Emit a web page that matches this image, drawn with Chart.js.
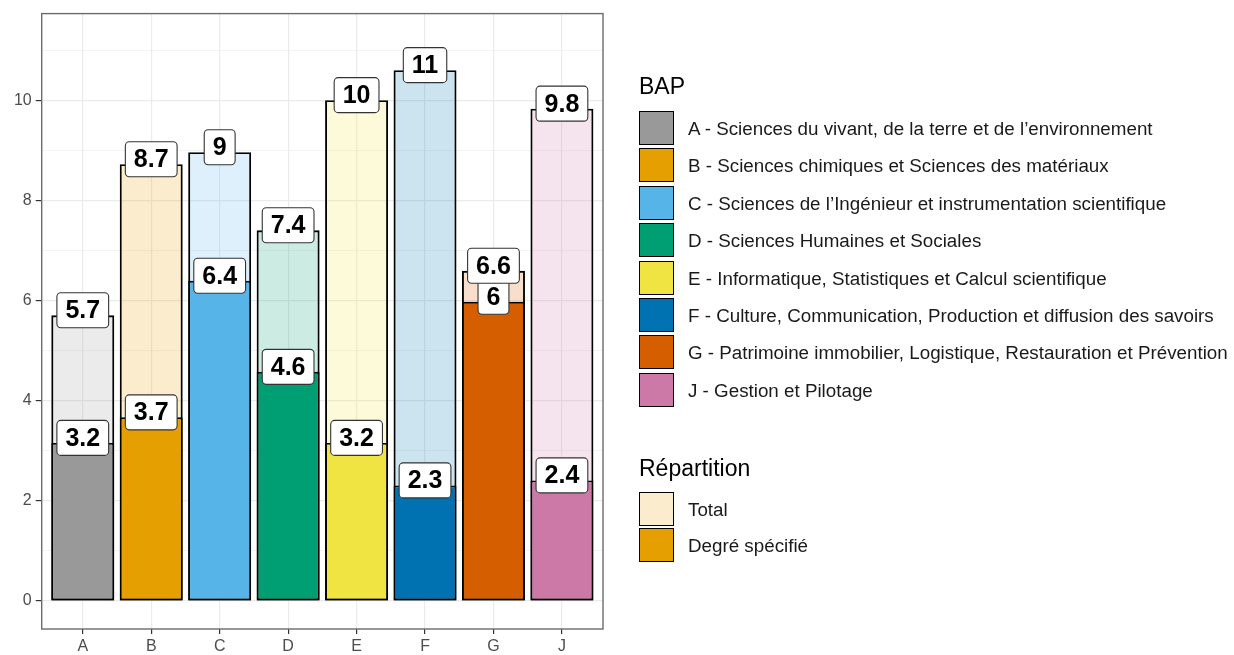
<!DOCTYPE html>
<html lang="fr">
<head>
    <meta charset="UTF-8">
    <title>Répartition par BAP</title>
    <script src="https://cdn.jsdelivr.net/npm/chart.js"></script>
    <style>
        body { margin: 0; background: #fff; font-family: "Liberation Sans", Arial, sans-serif; }
        #wrap { position: relative; width: 1234px; height: 655px; }
        canvas { position: absolute; left: 0; top: 0; }
        .legend-title { position: absolute; left: 639px; font-size: 23px; color: #000; line-height: 1; }
        .key { position: absolute; left: 639px; width: 33px; height: 32px; border: 1.8px solid #000; }
        .key-label { position: absolute; left: 688px; font-size: 18.8px; color: #1a1a1a; line-height: 1; white-space: nowrap; }
    </style>
</head>
<body>
<div id="wrap">
    <canvas id="bapChart" width="1234" height="655"></canvas>
    <div id="legend"></div>
</div>

<script>
    // categories and values
    const categories = ['A', 'B', 'C', 'D', 'E', 'F', 'G', 'J'];
    const bapNames = [
        'A - Sciences du vivant, de la terre et de l\u2019environnement',
        'B - Sciences chimiques et Sciences des matériaux',
        'C - Sciences de l\u2019Ingénieur et instrumentation scientifique',
        'D - Sciences Humaines et Sociales',
        'E - Informatique, Statistiques et Calcul scientifique',
        'F - Culture, Communication, Production et diffusion des savoirs',
        'G - Patrimoine immobilier, Logistique, Restauration et Prévention',
        'J - Gestion et Pilotage'
    ];
    const totalValues = [5.71, 8.73, 8.97, 7.41, 10.01, 10.61, 6.60, 9.84];
    const specifiedValues = [3.16, 3.67, 6.40, 4.58, 3.16, 2.31, 5.98, 2.41];
    const yTicks = [0, 1, 2, 3, 4, 5, 6, 7, 8, 9, 10, 11];
    const bapColors = ['#999999', '#E69F00', '#56B4E9', '#009E73', '#F0E442', '#0072B2', '#D55E00', '#CC79A7'];

    function withAlpha(hex, a) {
        const r = parseInt(hex.slice(1, 3), 16), g = parseInt(hex.slice(3, 5), 16), b = parseInt(hex.slice(5, 7), 16);
        return `rgba(${r}, ${g}, ${b}, ${a})`;
    }

    // labels like R's signif(x, 2)
    function fmt(v) {
        return String(Number(v.toPrecision(2)));
    }

    const axisFont = { family: '"Liberation Sans", Arial, sans-serif', size: 16 };

    // panel border drawn on top, like ggplot
    const panelBorder = {
        id: 'panelBorder',
        afterDatasetsDraw(chart) {
            const a = chart.chartArea, ctx = chart.ctx;
            ctx.save();
            ctx.strokeStyle = '#6b6b6b';
            ctx.lineWidth = 1.4;
            ctx.strokeRect(a.left, a.top, a.right - a.left, a.bottom - a.top);
            ctx.restore();
        }
    };

    // white rounded value labels at the top of each bar
    const valueLabels = {
        id: 'valueLabels',
        afterDraw(chart) {
            const ctx = chart.ctx;
            ctx.save();
            ctx.font = 'bold 25px "Liberation Sans", Arial, sans-serif';
            ctx.textAlign = 'center';
            ctx.textBaseline = 'middle';
            [0, 1].forEach(di => {
                const meta = chart.getDatasetMeta(di);
                const vals = chart.data.datasets[di].data;
                meta.data.forEach((bar, i) => {
                    const txt = fmt(vals[i].y);
                    const w = ctx.measureText(txt).width + 17;
                    const h = 35;
                    const cx = bar.x, cy = bar.y - 5;
                    const x = cx - w / 2, y = cy - h / 2, r = 4;
                    ctx.beginPath();
                    ctx.moveTo(x + r, y);
                    ctx.lineTo(x + w - r, y);
                    ctx.arcTo(x + w, y, x + w, y + r, r);
                    ctx.lineTo(x + w, y + h - r);
                    ctx.arcTo(x + w, y + h, x + w - r, y + h, r);
                    ctx.lineTo(x + r, y + h);
                    ctx.arcTo(x, y + h, x, y + h - r, r);
                    ctx.lineTo(x, y + r);
                    ctx.arcTo(x, y, x + r, y, r);
                    ctx.closePath();
                    ctx.fillStyle = '#ffffff';
                    ctx.fill();
                    ctx.strokeStyle = '#333333';
                    ctx.lineWidth = 1.1;
                    ctx.stroke();
                    ctx.fillStyle = '#000000';
                    ctx.fillText(txt, cx, cy + 1);
                });
            });
            ctx.restore();
        }
    };

    const ctx = document.getElementById('bapChart').getContext('2d');
    const bapChart = new Chart(ctx, {
        type: 'bar',
        data: {
            datasets: [
                {
                    label: 'Degré spécifié',
                    data: specifiedValues.map((v, i) => ({ x: i, y: v })),
                    backgroundColor: bapColors,
                    borderColor: '#000000',
                    borderWidth: 1.9,
                    borderSkipped: false,
                    grouped: false,
                    categoryPercentage: 0.92,
                    barPercentage: 1.0
                },
                {
                    label: 'Total',
                    data: totalValues.map((v, i) => ({ x: i, y: v })),
                    backgroundColor: bapColors.map(c => withAlpha(c, 0.2)),
                    borderColor: '#000000',
                    borderWidth: 1.9,
                    borderSkipped: false,
                    grouped: false,
                    categoryPercentage: 0.92,
                    barPercentage: 1.0
                }
            ]
        },
        options: {
            responsive: false,
            animation: false,
            devicePixelRatio: 1,
            layout: { padding: { top: 13, right: 631, left: 0, bottom: 0 } },
            plugins: { legend: { display: false }, tooltip: { enabled: false } },
            scales: {
                x: {
                    type: 'linear',
                    min: -0.6,
                    max: 7.6,
                    offset: false,
                    afterBuildTicks: axis => { axis.ticks = categories.map((c, i) => ({ value: i })); },
                    afterFit: scale => { scale.height = 26; },
                    ticks: {
                        callback: v => categories[v],
                        color: '#4d4d4d',
                        font: axisFont,
                        padding: 3,
                        maxRotation: 0,
                        autoSkip: false
                    },
                    grid: { offset: false, color: '#ebebeb', lineWidth: 1.2, tickLength: 5, tickColor: '#333333', tickWidth: 1.2 },
                    border: { display: false }
                },
                y: {
                    min: -0.56,
                    max: 11.74,
                    afterBuildTicks: axis => { axis.ticks = yTicks.map(v => ({ value: v })); },
                    afterFit: scale => { scale.width = 41.7; },
                    ticks: {
                        callback: v => (v % 2 === 0 ? String(v) : ''),
                        color: '#4d4d4d',
                        font: axisFont,
                        padding: 4
                    },
                    grid: {
                        color: '#ebebeb',
                        lineWidth: c => (c.tick && c.tick.value % 2 === 0 ? 1.2 : 0.6),
                        tickLength: 6,
                        tickColor: c => (c.tick && c.tick.value % 2 === 0 ? '#333333' : 'rgba(0,0,0,0)'),
                        tickWidth: 1.2
                    },
                    border: { display: false }
                }
            }
        },
        plugins: [panelBorder, valueLabels]
    });

    // legend on the right, two groups
    const legend = document.getElementById('legend');
    function addTitle(text, top) {
        const d = document.createElement('div');
        d.className = 'legend-title';
        d.style.top = top + 'px';
        d.textContent = text;
        legend.appendChild(d);
    }
    function addKey(color, text, top, h) {
        const k = document.createElement('div');
        k.className = 'key';
        k.style.top = top + 'px';
        k.style.background = color;
        legend.appendChild(k);
        const t = document.createElement('div');
        t.className = 'key-label';
        t.style.top = (top + h / 2 - 8.5) + 'px';
        t.textContent = text;
        legend.appendChild(t);
    }

    addTitle('BAP', 75);
    bapNames.forEach((name, i) => addKey(bapColors[i], name, 111 + i * 37.4, 35));

    addTitle('Répartition', 457);
    addKey(withAlpha('#E69F00', 0.2), 'Total', 492, 35);
    addKey('#E69F00', 'Degré spécifié', 528, 35);
</script>
</body>
</html>
